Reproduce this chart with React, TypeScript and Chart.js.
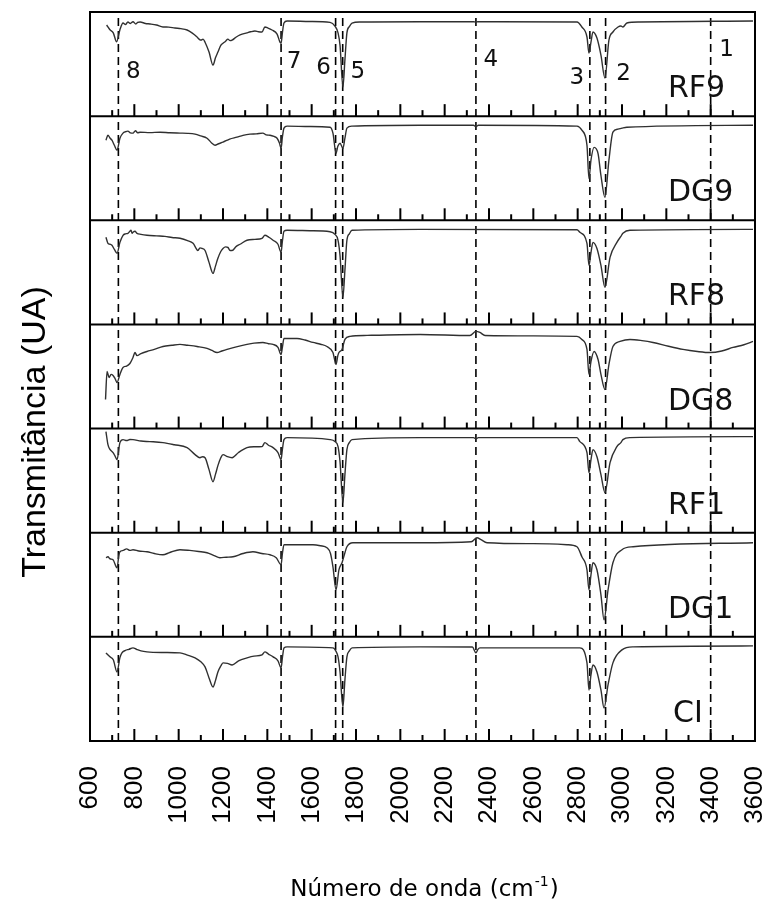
import React, { useEffect, useRef } from 'react';
import { Chart, registerables } from 'chart.js';

Chart.register(...registerables);

// ---------- DATA ----------
const panelNames = ['RF9', 'DG9', 'RF8', 'DG8', 'RF1', 'DG1', 'CI'];

// [wavenumber (cm-1), transmittance (% of panel height)]
const rf9 = [[675,87.5],[690,83],[705,80],[720,71.4],[735,83],[749,89.4],[760,88],[771,90.4],[782,89],[794,90.7],[807,88.5],[815,90],[826,90.4],[850,89],[871,88.5],[900,87.5],[929,85.6],[955,85.5],[983,84.6],[1010,84],[1038,82.7],[1060,80],[1083,76],[1092,74],[1101,73],[1110,74],[1119,71],[1137,61.5],[1155,49],[1166,56],[1177,61.5],[1190,68],[1200,70],[1212,72],[1222,74],[1232,72.5],[1241,73],[1260,76],[1277,78],[1308,80],[1325,81],[1344,81.7],[1360,81],[1376,80.8],[1389,85.6],[1403,84.6],[1421,82.7],[1444,78.8],[1457,71],[1462,70],[1468,80],[1475,89.4],[1489,91.3],[1592,90.9],[1683,90],[1705,86.5],[1719,80],[1728,68],[1741,27.9],[1750,54],[1759,80],[1770,86],[1782,89.4],[1818,90.4],[2089,90.7],[2330,90.7],[2340,90.2],[2350,90.7],[2797,90.4],[2819,85.6],[2842,76],[2851,60.6],[2860,71],[2869,80.8],[2887,75],[2905,58.6],[2923,36.5],[2941,73],[2959,80.8],[2982,85.6],[2995,86.5],[3004,85.6],[3022,89.4],[3080,90.4],[3591,91.3]];

const dg9 = [[672,76.9],[681,81.7],[690,79],[699,76.9],[710,72],[722,67.3],[735,78.8],[749,83.7],[760,85],[771,85.6],[782,84],[794,83.7],[805,86],[815,84],[826,84.6],[870,84.2],[916,84.6],[960,84],[1006,83.7],[1040,83.5],[1074,82.7],[1100,81],[1128,78.8],[1150,74],[1164,72],[1180,73.5],[1200,75],[1230,78],[1263,79.8],[1290,81.5],[1322,82.7],[1350,83],[1380,83.7],[1395,82],[1412,81.7],[1430,80.5],[1444,78.8],[1455,74],[1462,69],[1468,80],[1475,88.5],[1489,90.4],[1592,90],[1683,89.4],[1696,83.7],[1710,64.4],[1718,71],[1728,74],[1741,69],[1750,78.8],[1759,88.5],[1782,90.4],[2089,91.3],[2330,91.2],[2341,90],[2352,91.2],[2797,90.4],[2819,86.5],[2842,72],[2851,40],[2860,57.7],[2874,70],[2892,64],[2905,43],[2923,22],[2941,57.7],[2959,84.6],[2982,87.5],[3000,88.5],[3022,89.4],[3591,91.3]];

const rf8 = [[672,83.7],[681,77.9],[690,77],[699,76],[710,72],[722,68.3],[735,78.8],[749,85.6],[760,87],[771,87.5],[778,89],[785,90.4],[790,87.5],[794,88.5],[803,89.5],[812,87.5],[830,86.5],[857,85.6],[900,85],[938,84.6],[970,83.5],[1006,82.7],[1040,80.5],[1065,77.9],[1087,71],[1096,73.5],[1105,73],[1119,71],[1137,59.6],[1155,49],[1166,56],[1177,63.5],[1190,70],[1200,73],[1212,74.5],[1222,74],[1232,71],[1241,71],[1260,75],[1277,77],[1308,80.8],[1344,81.7],[1376,82.7],[1389,85.6],[1407,83.7],[1426,80.8],[1448,77],[1462,69.2],[1468,80],[1475,89.4],[1489,90.4],[1592,90],[1683,89],[1705,86.5],[1719,80.8],[1728,66],[1741,26],[1750,52],[1759,80.8],[1770,87],[1782,90.4],[2089,91.3],[2797,90.9],[2810,88.5],[2842,77.9],[2851,56.7],[2860,69],[2869,78.8],[2887,73],[2905,56.7],[2923,35.6],[2946,64.4],[2977,78.8],[2995,84.6],[3004,87.5],[3036,90.4],[3591,91.3]];

const dg8 = [[670,27.9],[677,54.8],[686,49],[695,52],[704,51],[713,48],[722,44.2],[735,52],[749,58.7],[765,60],[780,62.5],[794,68.3],[803,73],[812,70],[830,72],[857,74],[890,76],[929,78.8],[970,80],[1006,80.8],[1040,80],[1083,78.8],[1128,77],[1150,75],[1173,73],[1195,74.5],[1218,76],[1260,78.5],[1308,80.8],[1340,82],[1380,82.7],[1405,81.5],[1426,80.8],[1448,78],[1462,71],[1468,78],[1475,86.5],[1534,86.5],[1570,85],[1606,82.7],[1640,81],[1669,78.8],[1696,73],[1710,61.5],[1718,70],[1723,73],[1737,76],[1750,85.6],[1773,88.5],[1850,89.5],[2089,90.4],[2314,89.4],[2341,93.3],[2359,92.3],[2382,89.4],[2600,89],[2797,88.5],[2819,85.6],[2842,76],[2851,52],[2860,64.4],[2874,74],[2892,66.3],[2905,52],[2923,37.5],[2941,61.5],[2959,78.8],[2991,83.7],[3036,85.6],[3090,84.5],[3140,82.7],[3210,79],[3275,76],[3340,74],[3397,73],[3450,74.5],[3501,77.9],[3550,80.5],[3591,83.7]];

const rf1 = [[672,97.1],[681,84.6],[690,80],[704,76.9],[712,74],[722,70.2],[735,86.5],[749,89.4],[765,88.5],[780,89.5],[794,89.4],[830,88],[870,87.5],[929,86.5],[980,84.5],[1038,81.7],[1074,75],[1096,72],[1108,73],[1119,72],[1137,60.6],[1155,49],[1166,56],[1177,64.4],[1190,72],[1200,75],[1220,73],[1241,72],[1270,77],[1308,81.7],[1340,82.5],[1376,82.7],[1389,86.5],[1405,84],[1426,81.7],[1448,77],[1462,70.2],[1468,80],[1475,89.4],[1489,91.3],[1683,89.4],[1705,87.5],[1719,82.7],[1728,68],[1741,28.8],[1750,55.8],[1759,79.8],[1770,86.5],[1782,89.4],[2089,91.3],[2330,91.3],[2341,90.2],[2352,91.3],[2797,91.3],[2810,87.5],[2842,76.9],[2851,57.7],[2860,70],[2869,79.8],[2887,73],[2905,55.8],[2923,38.5],[2946,67.3],[2977,82.7],[2995,86.5],[3004,89.4],[3036,91.3],[3591,92.3]];

const dg1 = [[672,76],[681,76.9],[690,75],[704,74],[722,66.3],[730,77.9],[735,81.7],[750,83],[765,84.5],[780,83],[794,83.7],[820,82.5],[857,81.7],[890,80],[929,78.8],[960,81],[1006,83.7],[1050,83],[1090,82],[1128,80.8],[1160,78],[1186,76],[1215,76.5],[1245,76.9],[1290,80],[1335,81.7],[1375,80],[1412,78.8],[1440,76],[1462,69.2],[1468,80],[1475,88.5],[1606,88.5],[1640,87.5],[1669,85.6],[1685,80],[1696,67.3],[1710,45.2],[1723,64.4],[1737,71.2],[1750,80.8],[1759,86.5],[1786,90.4],[2089,90.4],[2320,91.3],[2346,95.2],[2364,93.3],[2391,90.4],[2600,89.5],[2752,88.5],[2797,86.5],[2819,76.9],[2842,64.4],[2851,45.2],[2860,59.6],[2869,71.2],[2887,64.4],[2905,40.4],[2919,16.3],[2937,45],[2959,71.2],[3000,83.7],[3050,86.5],[3591,90.4]];

const ci = [[672,84.6],[690,80.8],[705,78],[722,66.3],[735,80],[744,84.6],[760,87],[775,88],[794,89.4],[810,88],[830,86.5],[857,85.6],[930,85],[1006,84.6],[1040,82.5],[1074,79.8],[1100,76],[1119,71.2],[1137,60.6],[1155,51.9],[1166,58],[1177,66.3],[1190,72],[1200,75],[1220,74.5],[1241,73],[1270,77],[1308,79.8],[1340,81.5],[1376,82.7],[1389,85.6],[1405,83.5],[1426,80.8],[1448,77],[1462,70.2],[1468,80],[1475,89.4],[1489,90.4],[1696,89.4],[1710,86],[1719,80.8],[1728,66.3],[1741,32.7],[1750,58.7],[1759,80.8],[1770,86.5],[1782,89.4],[2089,90.4],[2325,90.2],[2341,84.6],[2350,88],[2359,89.4],[2810,89.4],[2842,75],[2851,49],[2860,63.5],[2869,73],[2887,66.3],[2905,49],[2919,31.7],[2937,53.8],[2959,75],[3000,87.5],[3050,90.4],[3591,91.3]];

const spectra = [rf9, dg9, rf8, dg8, rf1, dg1, ci];

// marked bands (cm-1) and their labels
const bandLabels = ['1', '2', '3', '4', '5', '6', '7', '8'];
const bandWavenumbers = [3400, 2926, 2855, 2341, 1740, 1708, 1462, 728];
// vertical position of each band label inside the top panel (% of panel)
const bandLabelLevels = [63.5, 40.4, 36.5, 53.8, 42.3, 46.2, 52, 42.3];

const xMin = 600;
const xMax = 3600;
const xMajorStep = 200;
const xMinorStep = 100;

// ---------- STYLE ----------
const W = 765;
const H = 918;
const PANEL = 100;
const bandLabelDx = [16, 18, -13, 15, 15, -12, 13, 15];
const panelLabelDx = [0, 0, 0, 0, 0, 0, 5];

export default function App() {
  const ref = useRef<HTMLCanvasElement | null>(null);

  useEffect(() => {
    const n = panelNames.length;
    const datasets: any[] = [];

    spectra.forEach((s, k) => {
      const off = (n - 1 - k) * PANEL;
      datasets.push({
        label: panelNames[k],
        data: s.map(([x, y]) => ({ x, y: off + y })),
        borderColor: '#303030',
        borderWidth: 1.4,
        pointRadius: 0,
        cubicInterpolationMode: 'monotone',
        fill: false,
      });
    });

    bandWavenumbers.forEach((w, i) => {
      datasets.push({
        label: 'band ' + bandLabels[i],
        data: [{ x: w, y: 0 }, { x: w, y: n * PANEL }],
        borderColor: '#000',
        borderWidth: 1.6,
        borderDash: [8, 5],
        pointRadius: 0,
        fill: false,
      });
    });

    const framePlugin = {
      id: 'frame',
      afterDatasetsDraw(chart: any) {
        const { ctx, chartArea: a, scales } = chart;
        const xs = scales.x;
        const ys = scales.y;
        ctx.save();
        ctx.strokeStyle = '#000';
        ctx.lineWidth = 2;
        for (let p = 0; p < n; p++) {
          const yb = ys.getPixelForValue(p * PANEL);
          if (p > 0) {
            ctx.beginPath();
            ctx.moveTo(a.left, yb);
            ctx.lineTo(a.right, yb);
            ctx.stroke();
          }
          for (let w = xMin + xMinorStep; w < xMax; w += xMinorStep) {
            const major = (w - xMin) % xMajorStep === 0;
            const px = xs.getPixelForValue(w);
            ctx.beginPath();
            ctx.moveTo(px, yb);
            ctx.lineTo(px, yb - (major ? 12 : 6));
            ctx.stroke();
          }
        }
        ctx.strokeRect(a.left, a.top, a.right - a.left, a.bottom - a.top);

        // panel names
        ctx.fillStyle = '#111';
        ctx.font = '30px "DejaVu Sans"';
        ctx.textAlign = 'left';
        ctx.textBaseline = 'alphabetic';
        for (let k = 0; k < n; k++) {
          const yb = ys.getPixelForValue((n - 1 - k) * PANEL);
          ctx.fillText(panelNames[k], a.right - 87 + panelLabelDx[k], yb - 19);
        }

        // band numbers in top panel
        ctx.font = '23px "DejaVu Sans"';
        ctx.textAlign = 'center';
        ctx.textBaseline = 'middle';
        bandLabels.forEach((t, i) => {
          const px = xs.getPixelForValue(bandWavenumbers[i]) + bandLabelDx[i];
          const py = ys.getPixelForValue((n - 1) * PANEL + bandLabelLevels[i]);
          ctx.fillText(t, px, py);
        });

        // axis titles
        ctx.fillStyle = '#000';
        ctx.save();
        ctx.translate(45, 432);
        ctx.rotate(-Math.PI / 2);
        ctx.font = '34px "Liberation Sans"';
        ctx.textAlign = 'center';
        ctx.textBaseline = 'alphabetic';
        ctx.fillText('Transmitância (UA)', 0, 0);
        ctx.restore();

        const mainFont = '23px "DejaVu Sans"';
        const supFont = '14px "DejaVu Sans"';
        const p1 = 'Número de onda (cm';
        const sup = '-1';
        const p2 = ')';
        ctx.font = mainFont;
        const w1 = ctx.measureText(p1).width;
        const w3 = ctx.measureText(p2).width;
        ctx.font = supFont;
        const w2 = ctx.measureText(sup).width + 2;
        const total = w1 + w2 + w3;
        const cx = (a.left + a.right) / 2 + 2;
        let sx = cx - total / 2;
        const by = 896;
        ctx.textAlign = 'left';
        ctx.textBaseline = 'alphabetic';
        ctx.font = mainFont;
        ctx.fillText(p1, sx, by);
        sx += w1;
        ctx.font = supFont;
        ctx.fillText(sup, sx + 1, by - 10);
        sx += w2;
        ctx.font = mainFont;
        ctx.fillText(p2, sx, by);
        ctx.restore();
      },
    };

    const chart = new Chart(ref.current as HTMLCanvasElement, {
      type: 'line',
      data: { datasets },
      options: {
        animation: false,
        responsive: true,
        maintainAspectRatio: false,
        layout: { padding: { left: 90, right: 10, top: 12, bottom: 0 } },
        plugins: { legend: { display: false }, tooltip: { enabled: false } },
        scales: {
          x: {
            type: 'linear',
            min: xMin,
            max: xMax,
            grid: { display: false, drawTicks: false },
            border: { display: false },
            ticks: {
              stepSize: xMajorStep,
              autoSkip: false,
              minRotation: 90,
              maxRotation: 90,
              padding: 25,
              color: '#000',
              font: { family: '"Liberation Sans"', size: 26 },
              callback: (v: any) => String(v),
            },
            afterFit(scale: any) {
              scale.height = 177;
              scale.paddingLeft = 0;
              scale.paddingRight = 0;
            },
          },
          y: {
            type: 'linear',
            display: false,
            min: 0,
            max: panelNames.length * PANEL,
          },
        },
      },
      plugins: [framePlugin],
    });

    return () => chart.destroy();
  }, []);

  return (
    <div style={{ position: 'absolute', left: 0, top: 0, width: W, height: H }}>
      <canvas ref={ref} />
    </div>
  );
}
